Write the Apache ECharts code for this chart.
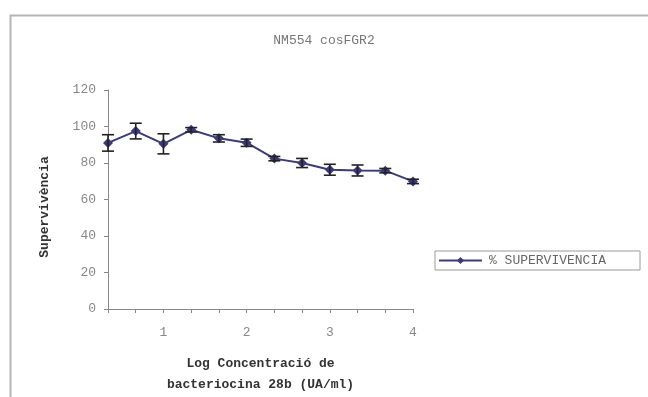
<!DOCTYPE html>
<html>
<head>
<meta charset="utf-8">
<script src="https://cdn.jsdelivr.net/npm/echarts@6/dist/echarts.min.js"></script>
<style>
  html, body { margin: 0; padding: 0; background: #fff; }
  #chart { width: 648px; height: 397px; }
</style>
</head>
<body>
<div id="chart"></div>
<script>
// log concentration (x) and survival (%)
var logConc = [1/3, 2/3, 1, 4/3, 5/3, 2, 7/3, 8/3, 3, 10/3, 11/3, 4];
var survival = [91, 97.5, 90.5, 98.2, 93.5, 91.1, 82.4, 80, 76.3, 75.9, 75.8, 69.9];
var errSd = [4.5, 4.3, 5.5, 1.2, 2, 2, 1.2, 2.5, 3, 3, 1.2, 1.2];
var yTicks = [0, 20, 40, 60, 80, 100, 120];

var mono = 'Liberation Mono, DejaVu Sans Mono, monospace';

var lineData = logConc.map(function (x, i) { return [x, survival[i]]; });
var errData = logConc.map(function (x, i) {
    return [x, survival[i] - errSd[i], survival[i] + errSd[i]];
});

var myChart = echarts.init(document.getElementById('chart'));
myChart.setOption({
    animation: false,
    backgroundColor: '#fff',
    title: {
        text: 'NM554 cosFGR2',
        left: 'center',
        top: 29,
        textStyle: { fontFamily: mono, fontSize: 13, fontWeight: 'normal', color: '#777' }
    },
    graphic: [{
        type: 'rect',
        left: 8, top: 13,
        shape: { width: 660, height: 420 },
        style: { fill: 'none', stroke: '#b5b5b5', lineWidth: 2 },
        silent: true
    }, {
        type: 'text',
        x: 45, y: 207,
        rotation: Math.PI / 2,
        style: {
            text: 'Supervivència',
            fontFamily: mono, fontSize: 13, fontWeight: 'bold', fill: '#333',
            align: 'center', verticalAlign: 'middle'
        },
        silent: true
    }],
    legend: {
        left: 435,
        top: 251,
        padding: [3, 34, 3, 3],
        itemWidth: 43,
        itemHeight: 9,
        itemGap: 6,
        borderColor: '#999',
        borderWidth: 1,
        borderRadius: 0,
        data: ['% SUPERVIVENCIA'],
        textStyle: { fontFamily: mono, fontSize: 13, color: '#666', padding: [0, 0, 0, 2] }
    },
    grid: { left: 108, right: 235, top: 90, bottom: 88, outerBoundsMode: 'none' },
    xAxis: {
        type: 'value',
        min: 1/3,
        max: 4,
        interval: 1/3,
        name: 'Log Concentració de\nbacteriocina 28b (UA/ml)',
        nameLocation: 'middle',
        nameGap: 44,
        nameTextStyle: { fontFamily: mono, fontSize: 13, fontWeight: 'bold', color: '#333', lineHeight: 21 },
        axisLine: { lineStyle: { color: '#888' } },
        axisTick: { length: 4, lineStyle: { color: '#888' } },
        splitLine: { show: false },
        axisLabel: {
            fontFamily: mono, fontSize: 13, color: '#888', margin: 17,
            formatter: function (v) {
                var k = Math.round(v * 3);
                return k % 3 === 0 ? String(k / 3) : '';
            }
        }
    },
    yAxis: {
        type: 'value',
        min: yTicks[0],
        max: yTicks[yTicks.length - 1],
        interval: 20,
        axisLine: { show: true, lineStyle: { color: '#888' } },
        axisTick: { show: true, length: 4, lineStyle: { color: '#888' } },
        splitLine: { show: false },
        axisLabel: { fontFamily: mono, fontSize: 13, color: '#888', margin: 12 }
    },
    series: [
        {
            name: '% SUPERVIVENCIA',
            type: 'line',
            data: lineData,
            symbol: 'diamond',
            symbolSize: 10,
            color: '#3a3a7c',
            lineStyle: { width: 2, color: '#3a3a7c' },
            itemStyle: { color: '#3a3a7c' },
            z: 3
        },
        {
            name: 'err',
            type: 'custom',
            data: errData,
            z: 4,
            renderItem: function (params, api) {
                var x = api.value(0);
                var lo = api.coord([x, api.value(1)]);
                var hi = api.coord([x, api.value(2)]);
                var w = 6;
                var st = { stroke: '#222', lineWidth: 1.6 };
                return {
                    type: 'group',
                    children: [
                        { type: 'line', shape: { x1: hi[0], y1: hi[1], x2: lo[0], y2: lo[1] }, style: st },
                        { type: 'line', shape: { x1: hi[0] - w, y1: hi[1], x2: hi[0] + w, y2: hi[1] }, style: st },
                        { type: 'line', shape: { x1: lo[0] - w, y1: lo[1], x2: lo[0] + w, y2: lo[1] }, style: st }
                    ]
                };
            }
        }
    ]
});
</script>
</body>
</html>
